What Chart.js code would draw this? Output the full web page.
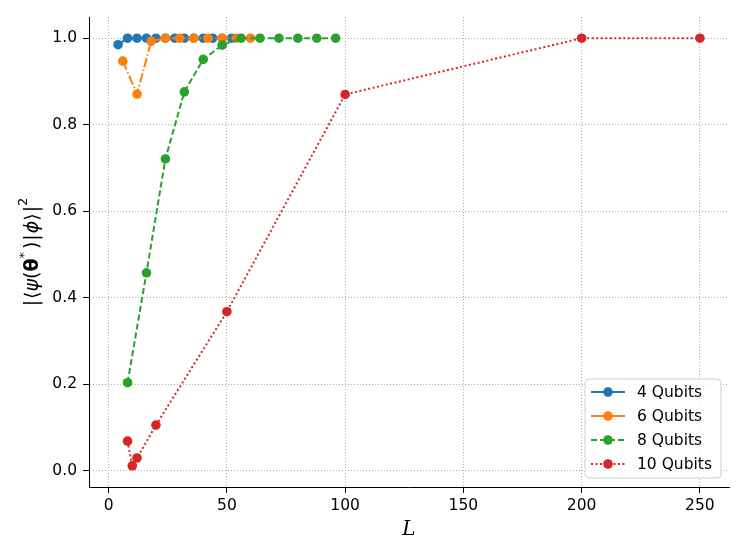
<!DOCTYPE html>
<html>
<head>
<meta charset="utf-8">
<script src="https://cdn.jsdelivr.net/npm/chart.js@4.4.0/dist/chart.umd.min.js"></script>
<style>
  html, body { margin: 0; padding: 0; background: #fff; }
  #wrap { width: 747px; height: 560px; }
</style>
</head>
<body>
<div id="wrap"><canvas id="chart" width="747" height="560"></canvas></div>
<script>
// data
const seriesNames = ['4 Qubits', '6 Qubits', '8 Qubits', '10 Qubits'];
const colors = ['#1f77b4', '#ff7f0e', '#2ca02c', '#d62728'];

const x4 = [4, 8, 12, 16, 20, 24, 28, 32, 36, 40, 44, 48, 52];
const y4 = [0.985, 1, 1, 1, 1, 1, 1, 1, 1, 1, 1, 1, 1];

const x6 = [6, 12, 18, 24, 30, 36, 42, 48, 54, 60];
const y6 = [0.947, 0.871, 0.993, 1, 1, 1, 1, 1, 1, 1];

const x8 = [8, 16, 24, 32, 40, 48, 56, 64, 72, 80, 88, 96];
const y8 = [0.204, 0.458, 0.721, 0.876, 0.951, 0.984, 1, 1, 1, 1, 1, 1];

const x10 = [8, 10, 12, 20, 50, 100, 200, 250];
const y10 = [0.069, 0.012, 0.030, 0.106, 0.368, 0.870, 1, 1];

const xTicks = [0, 50, 100, 150, 200, 250];
const yTicks = [0, 0.2, 0.4, 0.6, 0.8, 1.0];

const dashes = [[], [9.6, 2.4, 1.5, 2.4], [6, 3], [2, 2.5]];
const legendDashes = [[], [], [6, 3], [2, 2.5]];

function toPoints(xs, ys) {
  return xs.map((x, i) => ({ x: x, y: ys[i] }));
}

const allX = [x4, x6, x8, x10];
const allY = [y4, y6, y8, y10];

const datasets = seriesNames.map((name, i) => ({
  label: name,
  data: toPoints(allX[i], allY[i]),
  borderColor: colors[i],
  backgroundColor: colors[i],
  borderWidth: 2,
  borderDash: dashes[i],
  pointRadius: 4.8,
  pointBorderWidth: 0,
  pointHoverRadius: 4.8,
  showLine: true,
  tension: 0,
  order: 3 - i   // later series drawn on top
}));

// axis titles and legend drawn the matplotlib way
const extras = {
  id: 'extras',
  afterDraw(chart) {
    const ctx = chart.ctx;
    const area = chart.chartArea;
    ctx.save();

    // x label
    ctx.fillStyle = '#000';
    ctx.font = 'italic 20px "DejaVu Serif"';
    ctx.textAlign = 'center';
    ctx.textBaseline = 'middle';
    ctx.fillText('L', (area.left + area.right) / 2, 530);

    // y label: |<psi(theta*)|phi>|^2
    const parts = [
      { t: '|', f: '19px "DejaVu Sans"', dy: 0, gap: 1 },
      { t: '⟨', f: '19px "DejaVu Sans"', dy: 0, gap: 0 },
      { t: 'ψ', f: 'italic 19px "DejaVu Sans"', dy: 0, gap: 0 },
      { t: '(', f: '19px "DejaVu Sans"', dy: 0, gap: 0 },
      { t: 'θ', f: 'bold 19px "DejaVu Sans"', dy: 0, gap: 0 },
      { t: '*', f: '13px "DejaVu Sans"', dy: -8, gap: 3 },
      { t: ')', f: '19px "DejaVu Sans"', dy: 0, gap: 1 },
      { t: '|', f: '19px "DejaVu Sans"', dy: 0, gap: 1 },
      { t: 'ϕ', f: 'italic 19px "DejaVu Sans"', dy: 0, gap: 0 },
      { t: '⟩', f: '19px "DejaVu Sans"', dy: 0, gap: 1 },
      { t: '|', f: '19px "DejaVu Sans"', dy: 0, gap: 0 },
      { t: '2', f: '13px "DejaVu Sans"', dy: -9, gap: 0 }
    ];
    let total = 0;
    parts.forEach(p => { ctx.font = p.f; p.w = ctx.measureText(p.t).width; total += p.w + p.gap; });
    ctx.translate(33, (area.top + area.bottom) / 2);
    ctx.rotate(-Math.PI / 2);
    ctx.textAlign = 'left';
    ctx.textBaseline = 'middle';
    let px = -total / 2;
    parts.forEach(p => {
      ctx.font = p.f;
      ctx.fillText(p.t, px, p.dy);
      px += p.w + p.gap;
    });
    ctx.restore();

    // legend
    ctx.save();
    const bx = 585, by = 379, bw = 136, bh = 99, r = 4;
    ctx.beginPath();
    ctx.moveTo(bx + r, by);
    ctx.arcTo(bx + bw, by, bx + bw, by + bh, r);
    ctx.arcTo(bx + bw, by + bh, bx, by + bh, r);
    ctx.arcTo(bx, by + bh, bx, by, r);
    ctx.arcTo(bx, by, bx + bw, by, r);
    ctx.closePath();
    ctx.fillStyle = 'rgba(255,255,255,0.8)';
    ctx.fill();
    ctx.strokeStyle = '#d0d0d0';
    ctx.lineWidth = 1;
    ctx.stroke();

    seriesNames.forEach((name, i) => {
      const y = 392 + 24 * i;
      ctx.strokeStyle = colors[i];
      ctx.lineWidth = 2;
      ctx.setLineDash(legendDashes[i]);
      ctx.beginPath();
      ctx.moveTo(591, y);
      ctx.lineTo(625, y);
      ctx.stroke();
      ctx.setLineDash([]);
      ctx.fillStyle = colors[i];
      ctx.beginPath();
      ctx.arc(608, y, 4.8, 0, Math.PI * 2);
      ctx.fill();
      ctx.fillStyle = '#000';
      ctx.font = '15.5px "DejaVu Sans"';
      ctx.textAlign = 'left';
      ctx.textBaseline = 'middle';
      ctx.fillText(name, 637, y + 1);
    });
    ctx.restore();
  }
};

const tickFont = { family: '"DejaVu Sans"', size: 15.5 };

new Chart(document.getElementById('chart'), {
  type: 'scatter',
  data: { datasets: datasets },
  options: {
    responsive: false,
    devicePixelRatio: 1,
    animation: false,
    layout: { padding: { top: 17, right: 18, left: 0, bottom: 0 } },
    plugins: {
      legend: { display: false },
      tooltip: { enabled: false }
    },
    scales: {
      x: {
        type: 'linear',
        min: -8.3,
        max: 262.3,
        afterFit(scale) { scale.height = 73; },
        afterBuildTicks(scale) { scale.ticks = xTicks.map(v => ({ value: v })); },
        ticks: {
          font: tickFont,
          color: '#000',
          padding: 4,
          maxRotation: 0,
          callback: v => String(v)
        },
        grid: {
          color: '#999',
          lineWidth: 0.8,
          tickColor: '#000',
          tickLength: 6,
          tickWidth: 1
        },
        border: { display: true, color: '#000', width: 1, dash: [1, 2] }
      },
      y: {
        type: 'linear',
        min: -0.037,
        max: 1.049,
        afterFit(scale) { scale.width = 89; },
        afterBuildTicks(scale) { scale.ticks = yTicks.map(v => ({ value: v })); },
        ticks: {
          font: tickFont,
          color: '#000',
          padding: 6,
          callback: v => v.toFixed(1)
        },
        grid: {
          color: '#999',
          lineWidth: 0.8,
          tickColor: '#000',
          tickLength: 6,
          tickWidth: 1
        },
        border: { display: true, color: '#000', width: 1, dash: [1, 2] }
      }
    }
  },
  plugins: [extras]
});
</script>
</body>
</html>
